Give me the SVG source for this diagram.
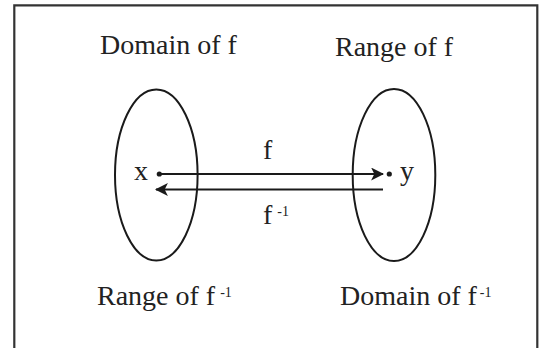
<svg xmlns="http://www.w3.org/2000/svg" width="539" height="348" viewBox="0 0 539 348">
<style>
.t{font-family:"Liberation Serif","Times New Roman",serif;font-size:28px;fill:#222}
.s{font-size:14px}
.e{fill:none;stroke:#1a1a1a;stroke-width:2}
.ln{stroke:#1a1a1a;stroke-width:2.2;fill:none}
</style>
<defs>
<marker id="ah" viewBox="0 0 12 12" refX="11" refY="6" markerWidth="13" markerHeight="13" markerUnits="userSpaceOnUse" orient="auto">
<path d="M0,0 L12,6 L0,12 L3,6 Z" fill="#1a1a1a"/>
</marker>
</defs>
<rect width="539" height="348" fill="#fff"/>
<path d="M14.3,350 V5.3 H537.3 V350" fill="none" stroke="#333" stroke-width="2.2"/>
<g id="domain">
<ellipse class="e" cx="156.3" cy="175" rx="41.3" ry="85.5"/>
<text class="t" x="100" y="54">Domain of f</text>
<text class="t" x="97" y="305">Range of f<tspan class="s" dx="5" dy="-8">-1</tspan></text>
<text class="t" x="134" y="180">x</text>
<circle cx="159.3" cy="174" r="2.6" fill="#1a1a1a"/>
</g>
<g id="range">
<ellipse class="e" cx="394" cy="175" rx="41.3" ry="86"/>
<text class="t" x="335" y="56">Range of f</text>
<text class="t" x="340" y="305">Domain of f<tspan class="s" dx="3" dy="-8">-1</tspan></text>
<text class="t" x="400" y="180">y</text>
<circle cx="389.3" cy="174" r="2.6" fill="#1a1a1a"/>
</g>
<g id="connectors">
<line class="ln" x1="160" y1="174" x2="383" y2="174" marker-end="url(#ah)"/>
<line class="ln" x1="383" y1="189.5" x2="156" y2="189.5" marker-end="url(#ah)"/>
<text class="t" x="263" y="159">f</text>
<text class="t" x="263" y="224">f<tspan class="s" dx="5" dy="-8">-1</tspan></text>
</g>
</svg>
